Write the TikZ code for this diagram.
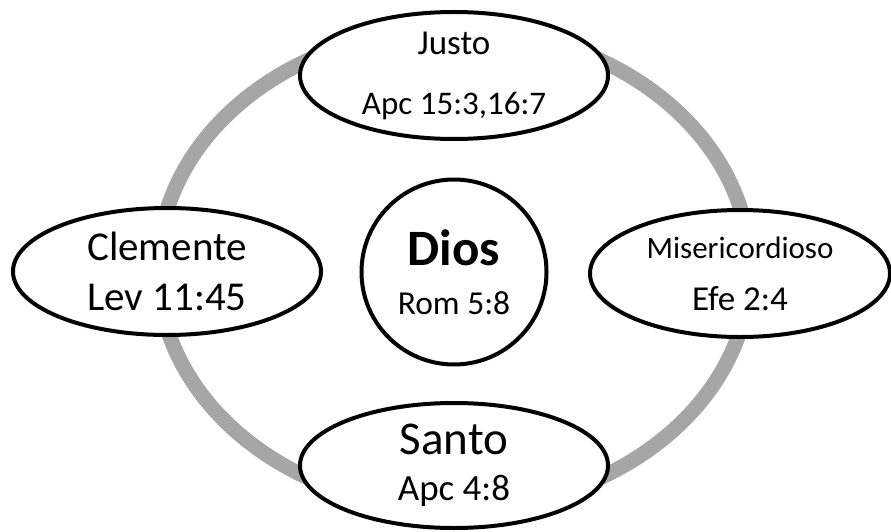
\documentclass[tikz,border=0pt]{standalone}
\usepackage{fontspec}
\setmainfont{Carlito}
\usetikzlibrary{shapes.geometric}
\definecolor{ringgray}{HTML}{A6A6A6}
\newcommand{\txtsize}[2]{\fontsize{#1}{#2}\selectfont}

\begin{document}
\begin{tikzpicture}[
    x=1pt, y=-1pt,
    attr/.style={draw, line width=4pt, fill=white, ellipse, inner xsep=0pt, inner ysep=-10pt, align=center},
    ring/.style={draw=ringgray, line width=15pt},
]
\useasboundingbox (0,0) rectangle (891,532);

\node[attr, circle, minimum size=185pt, font=\txtsize{33.5}{49}] (dios) at (454,272) {{\bfseries\txtsize{51}{49}Dios}\\Rom 5:8};

\draw[ring] ([yshift=3pt]dios.center) ellipse [x radius=296, y radius=240];

\node[attr, minimum width=308pt, minimum height=127pt, font=\txtsize{33}{60}] (justo) at (454,75.5) {{\txtsize{35}{60}Justo}\\Apc 15:3,16:7};
\node[attr, minimum width=308pt, minimum height=127pt, font=\txtsize{41}{50}] (clem) at (167,271.5) {Clemente\\Lev 11:45};
\node[attr, minimum width=300pt, minimum height=127pt, font=\txtsize{35}{52}] (miser) at (740,273.5) {{\txtsize{31}{52}Misericordioso}\\Efe 2:4};
\node[attr, minimum width=308pt, minimum height=125pt, font=\txtsize{37}{46}] (santo) at (454,465.5) {{\txtsize{47}{46}Santo}\\Apc 4:8};

\end{tikzpicture}
\end{document}
